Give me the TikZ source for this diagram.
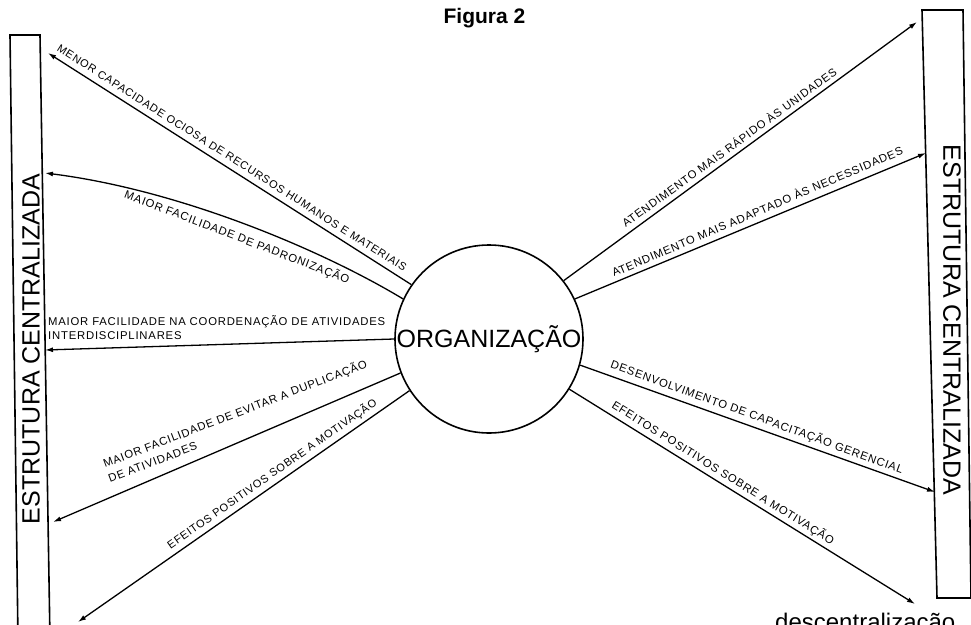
\documentclass[tikz,border=0pt]{standalone}
\usepackage{fontspec}
\setmainfont{Liberation Sans}
\newfontfamily\lblfont[LetterSpace=7]{Liberation Sans}
\usetikzlibrary{arrows.meta}
\begin{document}
\begin{tikzpicture}[x=1pt,y=-1pt,
  lbl/.style={font=\lblfont\fontsize{11.3}{13}\selectfont, inner sep=0pt},
  conn/.style={line width=1.3pt, -{Latex[length=8pt,width=5pt]}},
  boxline/.style={line width=1.6pt, line join=miter},
  bigtext/.style={font=\fontsize{25}{30}\selectfont, inner sep=0pt}
]
\useasboundingbox (0,0) rectangle (971,624);
\fill[white] (0,0) rectangle (971,624);
\clip (0,0) rectangle (971,624);

% title
\node[font=\bfseries\fontsize{21}{24}\selectfont, anchor=base, inner sep=0pt] (title) at (484.5,23) {Figura 2};

% left box
\draw[boxline] (18,640) -- (10,35) -- (40,35) -- (50,640);
\node[bigtext, rotate=90] (ltext) at (31,349) {ESTRUTURA CENTRALIZADA};

% right box
\draw[boxline] (922,10) -- (963,10) -- (971,598) -- (937,598) -- cycle;
\node[bigtext, rotate=-90] (rtext) at (952,320) {ESTRUTURA CENTRALIZADA};

% centre
\node[circle, draw, line width=1.6pt, minimum size=188pt, inner sep=0pt,
      font=\fontsize{25}{30}\selectfont] (org) at (489,339) {ORGANIZAÇÃO};

% arrow ends
\coordinate (L1) at (48,53);
\coordinate (L2) at (45,173);
\coordinate (L3) at (45,350);
\coordinate (L4) at (53,522);
\coordinate (L5) at (78,622);
\coordinate (R6) at (917,22);
\coordinate (R7) at (926,153);
\coordinate (R8) at (935,492);
\coordinate (R9) at (915,604);
\coordinate (c2a) at (322,250);
\coordinate (c2b) at (180,190);

\draw[conn] (org.145) -- (L1);
\draw[conn] (org.155) .. controls (c2a) and (c2b) .. (L2);
\draw[conn] (org.180) -- (L3);
\draw[conn] (org.201) -- (L4);
\draw[conn] (org.213) -- (L5);
\draw[conn] (org.38) -- (R6);
\draw[conn] (org.25) -- (R7);
\draw[conn] (org.-16) -- (R8);
\draw[conn] (org.-32) -- (R9);

% labels
\node[lbl, font=\lblfont\fontsize{11}{13}\selectfont, rotate=-32.5] (t1) at (232,158) {MENOR CAPACIDADE OCIOSA DE RECURSOS HUMANOS E MATERIAIS};
\node[lbl, rotate=-21] (t2) at (237,237) {MAIOR FACILIDADE DE PADRONIZAÇÃO};
\node[lbl, anchor=base west] (t3a) at (48,325) {MAIOR FACILIDADE NA COORDENAÇÃO DE ATIVIDADES};
\node[lbl, anchor=base west] (t3b) at (48,339) {INTERDISCIPLINARES};
\node[lbl, rotate=21, anchor=base west] (t4a) at (105,468) {MAIOR FACILIDADE DE EVITAR A DUPLICAÇÃO};
\node[lbl, rotate=21, anchor=base west] (t4b) at (110,483) {DE ATIVIDADES};
\node[lbl, font=\lblfont\fontsize{11}{13}\selectfont, rotate=35] (t5) at (272,474) {EFEITOS POSITIVOS SOBRE A MOTIVAÇÃO};
\node[lbl, rotate=36] (t6) at (729,147) {ATENDIMENTO MAIS RÁPIDO ÀS UNIDADES};
\node[lbl, rotate=23] (t7) at (757,211) {ATENDIMENTO MAIS ADAPTADO ÀS NECESSIDADES};
\node[lbl, rotate=-20] (t8) at (757,417) {DESENVOLVIMENTO DE CAPACITAÇÃO GERENCIAL};
\node[lbl, rotate=-32] (t9) at (723,473) {EFEITOS POSITIVOS SOBRE A MOTIVAÇÃO};

% cut-off caption at the bottom edge
\node[font=\fontsize{24}{28}\selectfont, anchor=base west, inner sep=0pt] (cap) at (775,630) {descentralização};
\end{tikzpicture}
\end{document}
